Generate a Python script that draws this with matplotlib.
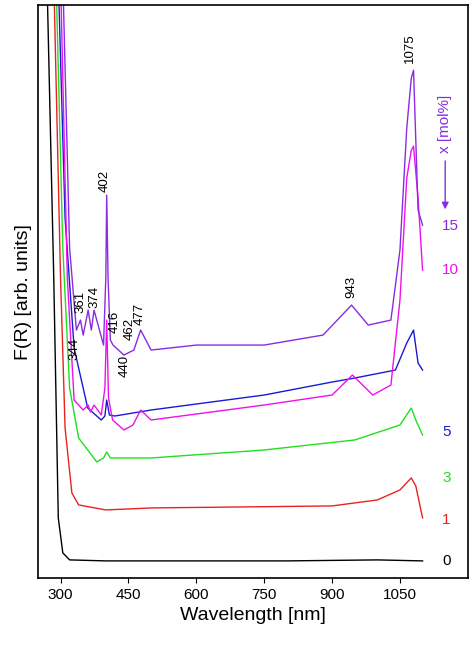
import matplotlib.pyplot as plt

# wavelength (nm) and F(R) in arbitrary units
wl_0 = [270, 285, 295, 305, 320, 400, 600, 800, 1000, 1100]
fr_0 = [600, 300, 60, 25, 18, 17, 17, 17, 18, 17]

wl_1 = [285, 300, 310, 325, 340, 400, 500, 700, 900, 1000, 1050, 1075, 1085, 1100]
fr_1 = [600, 300, 150, 85, 73, 68, 70, 71, 72, 78, 88, 100, 92, 60]

wl_3 = [290, 305, 320, 340, 380, 395, 402, 410, 500, 750, 950, 1050, 1075, 1085, 1100]
fr_3 = [600, 330, 190, 140, 116, 120, 126, 120, 120, 128, 138, 153, 170, 158, 143]

wl_5 = [295, 310, 330, 360, 390, 398, 402, 408, 420, 500, 750, 900, 950, 1040, 1065, 1080, 1090, 1100]
fr_5 = [600, 360, 230, 170, 158, 162, 178, 163, 162, 168, 183, 196, 200, 208, 235, 248, 215, 208]

wl_10 = [300, 315, 330, 340, 350, 361, 366, 374, 390, 398, 402, 406, 415, 440, 460, 477, 500, 750, 900,
         945, 990, 1030, 1050, 1065, 1075, 1080, 1090, 1100]
fr_10 = [600, 300, 178, 173, 168, 173, 166, 173, 163, 190, 258, 180, 158, 148, 153, 168, 158, 173, 183,
         203, 183, 193, 278, 400, 428, 432, 380, 308]

wl_15 = [305, 320, 335, 344, 350, 361, 368, 374, 395, 400, 402, 405, 410, 416, 440, 462, 477, 500, 600,
         750, 880, 943, 980, 1030, 1050, 1065, 1075, 1080, 1090, 1100]
fr_15 = [600, 330, 248, 258, 243, 268, 248, 268, 233, 300, 383, 300, 238, 233, 223, 228, 248, 228, 233,
         233, 243, 273, 253, 258, 328, 450, 500, 508, 368, 353]

series = [(wl_0, fr_0, "black", "0"), (wl_1, fr_1, "#e8231f", "1"), (wl_3, fr_3, "#22dd22", "3"),
          (wl_5, fr_5, "#1a1ad6", "5"), (wl_10, fr_10, "#ee11ee", "10"), (wl_15, fr_15, "#8a2be2", "15")]
label_y = [17, 58, 100, 146, 308, 352]

# peak labels: text position (nm, F(R) of text bottom), label
peaks_15 = [(331, 218, "344"), (345, 265, "361"), (375, 270, "374"), (398, 386, "402"),
            (420, 245, "416"), (442, 201, "440"), (452, 238, "462"), (475, 253, "477"),
            (943, 280, "943"), (1073, 515, "1075")]

fig = plt.figure(figsize=(4.74, 6.65), dpi=100)
ax = fig.add_axes([0.080, 0.131, 0.907, 0.861])
plt.rcParams["font.family"] = "Liberation Sans"

for (wl, fr, color, name), ly in zip(series, label_y):
    ax.plot(wl, fr, color=color, linewidth=1.0)
    ax.text(1143, ly, name, color=color, fontsize=11, ha="left", va="center", family="Liberation Sans")

for x, y, txt in peaks_15:
    ax.text(x, y, txt, rotation=90, fontsize=9.5, ha="center", va="bottom", family="Liberation Sans")

# concentration arrow
ax.annotate("", xy=(1150, 366), xytext=(1150, 420),
            arrowprops=dict(arrowstyle="-|>", color="#8a2be2", lw=1))
ax.text(1150, 425, "x [mol%]", rotation=90, color="#8a2be2", fontsize=11, ha="center", va="bottom",
        family="Liberation Sans")

ax.set_xlim(250, 1200)
ax.set_ylim(0, 573)
ax.set_xticks([300, 450, 600, 750, 900, 1050])
ax.set_yticks([])
ax.tick_params(axis="x", labelsize=11, direction="out")
for lab in ax.get_xticklabels():
    lab.set_family("Liberation Sans")
ax.set_xlabel("Wavelength [nm]", fontsize=14, family="Liberation Sans")
ax.set_ylabel("F(R) [arb. units]", fontsize=14, family="Liberation Sans")
for sp in ax.spines.values():
    sp.set_linewidth(1.2)

plt.savefig("out.png", dpi=100)
